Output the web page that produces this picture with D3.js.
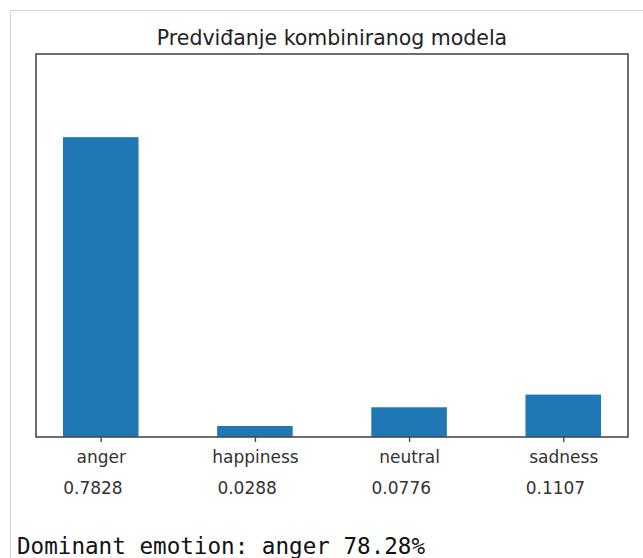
<!DOCTYPE html>
<html><head><meta charset="utf-8">
<script src="https://cdn.jsdelivr.net/npm/d3@7"></script>
<style>body{margin:0;background:#fff;} svg{display:block;}</style>
</head><body>
<script>
const categories = ["anger", "happiness", "neutral", "sadness"];
const values = [0.7828, 0.0288, 0.0776, 0.1107];
const valueLabels = ["0.7828", "0.0288", "0.0776", "0.1107"];
const title = "Predviđanje kombiniranog modela";
const footer = "Dominant emotion: anger 78.28%";

const W = 643, H = 558;
const plot = {left: 36, right: 628, top: 54, bottom: 437};
const svg = d3.select("body").append("svg").attr("width", W).attr("height", H);

// outer cell border
svg.append("path").attr("d", `M10.5,${H} V10.5 H${W}`).attr("fill", "none").attr("stroke", "#d3d3d3").attr("stroke-width", 1);

const x = d3.scaleLinear().domain([-0.42, 3.42]).range([plot.left, plot.right]);
const y = d3.scaleLinear().domain([0, 1]).range([plot.bottom, plot.top]);
const bw = 0.49;

svg.selectAll("rect.bar").data(values).enter().append("rect")
  .attr("class", "bar")
  .attr("x", (d, i) => x(i - bw / 2))
  .attr("width", (d, i) => x(i + bw / 2) - x(i - bw / 2))
  .attr("y", d => y(d))
  .attr("height", d => y(0) - y(d))
  .attr("fill", "#1f77b4");

// frame
svg.append("rect").attr("x", plot.left).attr("y", plot.top)
  .attr("width", plot.right - plot.left).attr("height", plot.bottom - plot.top)
  .attr("fill", "none").attr("stroke", "#4a4a4a").attr("stroke-width", 1.6);

// x axis ticks & labels
const ax = svg.append("g").attr("transform", `translate(0,${plot.bottom})`)
  .call(d3.axisBottom(x).tickValues(d3.range(categories.length)).tickFormat(i => categories[i]).tickSize(5).tickPadding(10));
ax.select(".domain").remove();
ax.selectAll(".tick line").attr("stroke", "#4a4a4a").attr("stroke-width", 1.4);
ax.selectAll(".tick text").attr("font-family", "DejaVu Sans").attr("font-size", "17px").attr("fill", "#333").attr("dy", null).attr("y", 26);

// value labels
svg.selectAll("text.val").data(valueLabels).enter().append("text")
  .attr("class", "val")
  .attr("x", (d, i) => x(i - 0.25) + 1)
  .attr("y", 494)
  .attr("font-family", "DejaVu Sans").attr("font-size", "17px").attr("fill", "#333")
  .text(d => d);

// title
svg.append("text").attr("x", (plot.left + plot.right) / 2).attr("y", 45)
  .attr("text-anchor", "middle").attr("font-family", "DejaVu Sans").attr("font-size", "20.5px").attr("fill", "#222")
  .text(title);

// footer
svg.append("text").attr("x", 17).attr("y", 554)
  .attr("font-family", "DejaVu Sans Mono").attr("font-size", "22.6px").attr("fill", "#111")
  .text(footer);
</script>
</body></html>
